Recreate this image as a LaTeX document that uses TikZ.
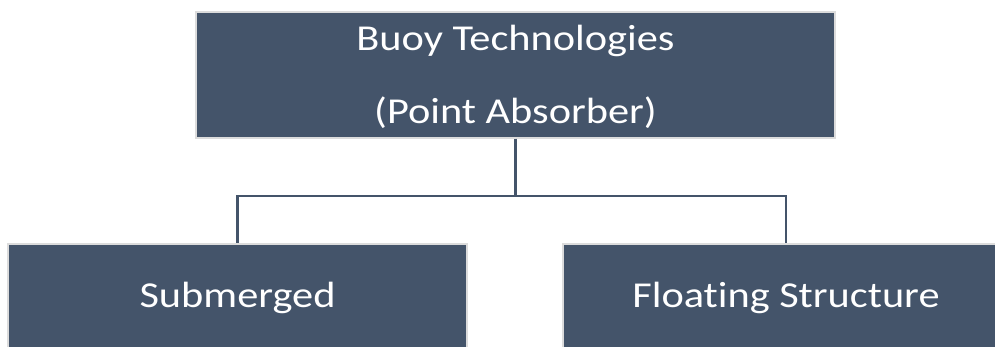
\documentclass[tikz,border=0pt]{standalone}
\usepackage{fontspec}
\setmainfont{Carlito}[FakeStretch=1.16, Ligatures=NoCommon]
\usepackage{xcolor}
\usepackage{tikz}
\usetikzlibrary{positioning,calc}

\definecolor{slate}{HTML}{44546A}
\definecolor{rim}{HTML}{DCDCDC}

\tikzset{
    box/.style={draw=rim, line width=1.5pt, fill=slate, text=white, inner sep=0pt, align=center,
        font=\fontsize{36.5}{73}\selectfont},
    leaf/.style={box, minimum height=108pt, text height=26pt, text depth=8pt},
    link/.style={draw=slate, line width=2.2pt}
}

\begin{document}
\begin{tikzpicture}[x=1pt,y=-1pt]
    \useasboundingbox (0,0) rectangle (995,347);
    \begin{scope}
    \clip (0,0) rectangle (995,347);
    \node[box, minimum width=639pt, minimum height=126pt] (top) at (515.5,75)
        {\rule{0pt}{34pt}Buoy Technologies\\(Point Absorber)\rule[-10pt]{0pt}{10pt}};
    \node[leaf, minimum width=459pt] (sub) at (237.5,298) {Submerged};
    \node[leaf, minimum width=446pt] (float) at (786,298) {Floating Structure};

    \draw[link] (top.south) -- ++(0,57) coordinate (fork) -| (sub.north);
    \draw[link] (fork) -| (float.north);
    \end{scope}
\end{tikzpicture}
\end{document}
